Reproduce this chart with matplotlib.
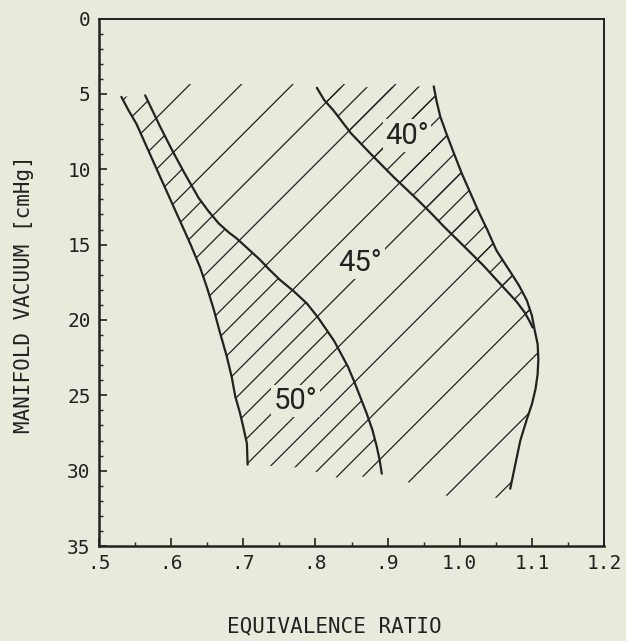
import matplotlib
matplotlib.use("Agg")
import matplotlib.pyplot as plt
from matplotlib.collections import LineCollection
from matplotlib.patches import Polygon
from matplotlib.ticker import MultipleLocator

# boundary curves: (equivalence ratio, manifold vacuum [cmHg])
curve_a_x = [0.531, 0.541, 0.552, 0.566, 0.580, 0.596, 0.612, 0.627, 0.640, 0.650,
             0.659, 0.668, 0.677, 0.684, 0.689, 0.695, 0.700, 0.705, 0.706]
curve_a_y = [5.2, 6.1, 7.0, 8.5, 10.0, 11.7, 13.4, 15.0, 16.5, 17.9,
             19.3, 20.9, 22.4, 23.8, 25.1, 26.1, 27.1, 28.2, 29.6]

curve_b_x = [0.564, 0.574, 0.585, 0.602, 0.619, 0.638, 0.652, 0.666, 0.680, 0.691,
             0.707, 0.723, 0.737, 0.751, 0.770, 0.788, 0.803, 0.816, 0.826, 0.835,
             0.845, 0.853, 0.862, 0.871, 0.879, 0.885, 0.889, 0.892]
curve_b_y = [5.1, 6.1, 7.2, 8.8, 10.3, 11.9, 12.8, 13.6, 14.2, 14.6,
             15.3, 16.0, 16.7, 17.35, 18.1, 18.9, 19.8, 20.7, 21.4, 22.2,
             23.1, 24.0, 25.1, 26.2, 27.3, 28.4, 29.3, 30.2]

curve_c_x = [0.802, 0.812, 0.825, 0.849, 0.876, 0.908, 0.941, 0.960, 0.978, 0.995,
             1.012, 1.033, 1.056, 1.079, 1.090, 1.097, 1.101]
curve_c_y = [4.6, 5.4, 6.1, 7.6, 8.95, 10.5, 12.0, 12.9, 13.8, 14.6,
             15.4, 16.4, 17.6, 18.8, 19.5, 20.1, 20.5]

curve_d_x = [0.964, 0.968, 0.973, 0.982, 0.992, 1.003, 1.015, 1.026, 1.038, 1.051,
             1.070, 1.082, 1.093, 1.100, 1.104, 1.108, 1.109, 1.108, 1.105, 1.100,
             1.093, 1.084, 1.077, 1.070]
curve_d_y = [4.5, 5.5, 6.5, 7.7, 8.95, 10.3, 11.6, 12.8, 14.0, 15.4,
             16.8, 17.7, 18.7, 19.7, 20.7, 21.6, 22.6, 23.6, 24.6, 25.6,
             26.6, 28.0, 29.6, 31.2]

# lower ends of the hatch strokes, and their upper limit
hatch_bottom_x = [0.706, 0.78, 0.84, 0.892, 0.93, 0.99, 1.08]
hatch_bottom_y = [29.6, 29.8, 30.6, 30.4, 30.8, 31.8, 31.8]
hatch_top_y = 4.35

labels = ["40°", "45°", "50°"]
label_x = [0.897, 0.832, 0.742]
label_y = [8.3, 16.75, 25.9]

x_ticks = [0.5, 0.6, 0.7, 0.8, 0.9, 1.0, 1.1, 1.2]
x_tick_labels = [".5", ".6", ".7", ".8", ".9", "1.0", "1.1", "1.2"]
y_ticks = [0, 5, 10, 15, 20, 25, 30, 35]

BG = "#e8eadb"
INK = "#222222"
MONO = "DejaVu Sans Mono"


def main() -> None:
    fig = plt.figure(figsize=(6.26, 6.41), dpi=100, facecolor=BG)
    ax = fig.add_axes([99 / 626, 95 / 641, 505 / 626, 527.5 / 641])
    ax.set_facecolor(BG)
    ax.set_xlim(0.5, 1.2)
    ax.set_ylim(35, 0)

    # hatch strokes at 45 degrees on screen
    px = ax.bbox.width / 0.7
    py = ax.bbox.height / 35
    shift = 35 * py / px
    step = 0.0356
    dense, sparse = [], []
    for k in range(-10, 40):
        x0 = 0.7174 + k * step
        seg = [(x0, 0), (x0 - shift, 35)]
        dense.append(seg)
        if k % 2 == 0:
            sparse.append(seg)

    a = list(zip(curve_a_x, curve_a_y))
    b = list(zip(curve_b_x, curve_b_y))
    c = list(zip(curve_c_x, curve_c_y))
    d = list(zip(curve_d_x, curve_d_y))
    bottom = list(zip(hatch_bottom_x, hatch_bottom_y))

    bot_ab = [p for p in bottom if a[-1][0] < p[0] < b[-1][0]]
    bot_bd = [p for p in bottom if p[0] > b[-1][0]]
    region_50 = a + bot_ab + b[::-1]
    region_45 = (b + bot_bd + d[::-1]
                 + [(d[0][0], hatch_top_y), (0.60, hatch_top_y)])
    d_upper = [p for p in d if p[1] < c[-1][1]]
    region_40 = c + d_upper[::-1]

    for verts, segs in [(region_50, dense), (region_40, dense), (region_45, sparse)]:
        clip = Polygon(verts, closed=True, transform=ax.transData)
        lc = LineCollection(segs, colors=INK, linewidths=0.9)
        ax.add_collection(lc)
        lc.set_clip_path(clip)

    for xs, ys in [(curve_a_x, curve_a_y), (curve_b_x, curve_b_y),
                   (curve_c_x, curve_c_y), (curve_d_x, curve_d_y)]:
        ax.plot(xs, ys, color=INK, lw=1.6, solid_capstyle="round",
                solid_joinstyle="round")

    for text, x, y in zip(labels, label_x, label_y):
        ax.text(x, y, text, ha="left", va="baseline", fontsize=21,
                family="Roboto", color=INK,
                bbox=dict(boxstyle="square,pad=0.08", fc=BG, ec="none"))

    ax.set_xticks(x_ticks)
    ax.set_xticklabels(x_tick_labels)
    ax.set_yticks(y_ticks)
    ax.xaxis.set_minor_locator(MultipleLocator(0.05))
    ax.yaxis.set_minor_locator(MultipleLocator(1))
    ax.tick_params(which="both", direction="in", colors=INK, top=False, right=False)
    ax.tick_params(which="major", length=6, width=1.2, pad=6, labelsize=14)
    ax.tick_params(which="minor", length=3, width=1.0)
    for lab in ax.get_xticklabels() + ax.get_yticklabels():
        lab.set_family(MONO)

    for side in ["left", "bottom"]:
        ax.spines[side].set_linewidth(1.8)
    for side in ["top", "right"]:
        ax.spines[side].set_linewidth(1.4)
    for sp in ax.spines.values():
        sp.set_color(INK)

    ax.set_xlabel("EQUIVALENCE RATIO", family=MONO, fontsize=15, color=INK)
    ax.set_ylabel("MANIFOLD VACUUM [cmHg]", family=MONO, fontsize=15, color=INK)
    ax.xaxis.set_label_coords((334 - 99) / 505, -(626 - 546) / 527.5)
    ax.xaxis.label.set_va("center")
    ax.yaxis.set_label_coords((24 - 99) / 505, 1 - (294 - 18.5) / 527.5)
    ax.yaxis.label.set_va("center")

    fig.savefig("out.png", dpi=100, facecolor=BG)


if __name__ == "__main__":
    main()
